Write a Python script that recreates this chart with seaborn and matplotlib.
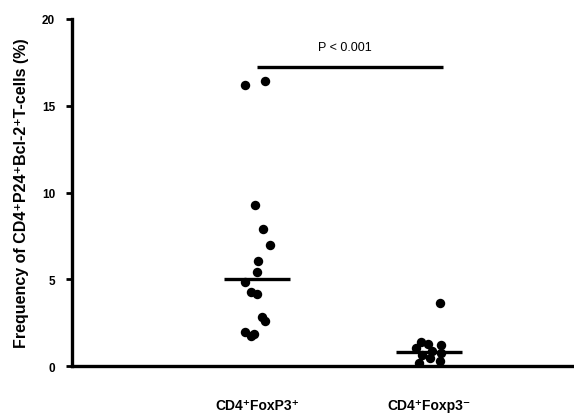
import numpy as np
import pandas as pd
import matplotlib
matplotlib.use('Agg')
import matplotlib.pyplot as plt
import seaborn as sns

# values
foxp3_pos = [16.2, 16.4, 9.3, 7.9, 7.0, 6.05, 5.4, 4.85, 4.25, 4.15, 2.85, 2.6, 1.85, 1.95, 1.75]
foxp3_neg = [3.65, 1.40, 1.30, 1.25, 1.05, 0.90, 0.75, 0.65, 0.45, 0.30, 0.20]
groups = ['CD4\u207aFoxP3\u207a', 'CD4\u207aFoxp3\u207b']
medians = [5.03, 0.83]
p_text = 'P < 0.001'
y_ticks = [0, 5, 10, 15, 20]

df = pd.DataFrame({
    'group': [groups[0]] * len(foxp3_pos) + [groups[1]] * len(foxp3_neg),
    'value': foxp3_pos + foxp3_neg,
})

sns.set_style('white')
plt.rcParams['font.family'] = ['Liberation Sans', 'DejaVu Sans']
plt.rcParams['text.color'] = 'black'
plt.rcParams['axes.labelcolor'] = 'black'
plt.rcParams['xtick.color'] = 'black'
plt.rcParams['ytick.color'] = 'black'
plt.rcParams['axes.edgecolor'] = 'black'

fig = plt.figure(figsize=(5.74, 4.14), dpi=100)
ax = fig.add_axes([0.125, 0.113, 0.875, 0.839])

np.random.seed(7)
sns.stripplot(data=df, x='group', y='value', order=groups, color='black',
              size=6.8, jitter=0.08, linewidth=0, ax=ax)

# median bars
for i, m in enumerate(medians):
    ax.hlines(m, i - 0.19, i + 0.19, color='black', linewidth=2.4)

# significance bar
ax.hlines(17.25, 0, 1.08, color='black', linewidth=2.4)
ax.text(0.51, 18.4, p_text, ha='center', va='center', fontsize=9)

ax.set_xlim(-1.076, 1.843)
ax.set_ylim(0, 20)
ax.set_yticks(y_ticks)
ax.set_yticklabels([str(t) for t in y_ticks], fontsize=8.5, fontweight='bold')
ax.set_xticks([0, 1])
ax.set_xticklabels(groups, fontsize=10, fontweight='bold')
ax.tick_params(axis='x', length=0, pad=23)
ax.tick_params(axis='y', length=4, width=2, direction='out', pad=8, left=True)
ax.set_xlabel('')
ax.set_ylabel('Frequency of CD4\u207aP24\u207aBcl-2\u207aT-cells (%)', fontsize=11.5,
              fontweight='bold', labelpad=9)

sns.despine(ax=ax)
for s in ['left', 'bottom']:
    ax.spines[s].set_linewidth(2.4)

fig.savefig('out.png', dpi=100)
